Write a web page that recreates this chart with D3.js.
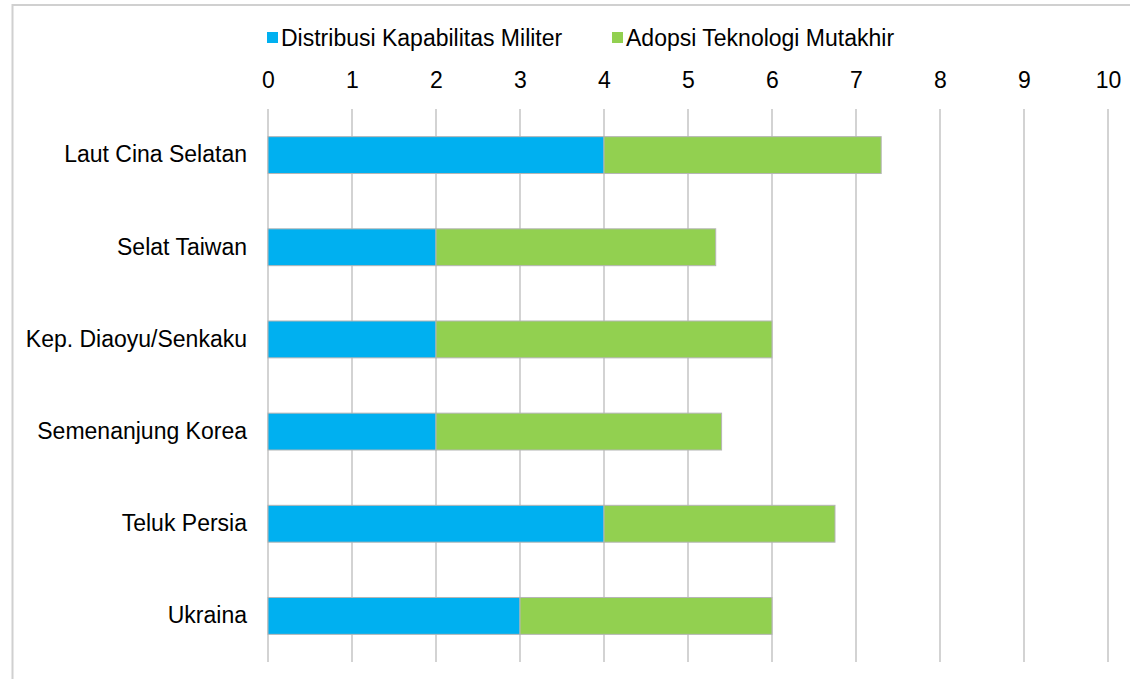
<!DOCTYPE html>
<html>
<head>
<meta charset="utf-8">
<script src="https://cdn.jsdelivr.net/npm/d3@7"></script>
<style>
  html, body { margin: 0; padding: 0; background: #fff; }
  svg { display: block; }
  text { font-family: "Liberation Sans", Arial, sans-serif; fill: #000; }
</style>
</head>
<body>
<svg id="chart" width="1130" height="679"></svg>
<script>
const categories = ["Laut Cina Selatan", "Selat Taiwan", "Kep. Diaoyu/Senkaku", "Semenanjung Korea", "Teluk Persia", "Ukraina"];
const seriesNames = ["Distribusi Kapabilitas Militer", "Adopsi Teknologi Mutakhir"];
const militer = [4, 2, 2, 2, 4, 3];
const teknologi = [3.3, 3.33, 4, 3.4, 2.75, 3];
const tickValues = [0, 1, 2, 3, 4, 5, 6, 7, 8, 9, 10];
const colors = ["#00B0F0", "#92D050"];

const svg = d3.select("#chart");
const FS = 23;

// outer border
svg.append("rect")
  .attr("x", 12.5).attr("y", 5)
  .attr("width", 1300).attr("height", 900)
  .attr("fill", "none").attr("stroke", "#d0d0d0").attr("stroke-width", 2);

const x = d3.scaleLinear().domain([0, 10]).range([268, 1108]);
const y = d3.scaleBand().domain(categories).range([109, 662]).paddingInner(0.6).paddingOuter(0.3);

// gridlines
svg.append("g").selectAll("line").data(tickValues).join("line")
  .attr("x1", d => x(d)).attr("x2", d => x(d))
  .attr("y1", 109).attr("y2", 662)
  .attr("stroke", "#c4c4c4").attr("stroke-width", 1.5);

// top axis labels
const xAxis = svg.append("g").attr("transform", "translate(0,88)")
  .call(d3.axisTop(x).tickValues(tickValues).tickSize(0).tickPadding(0).tickFormat(d3.format("d")));
xAxis.select(".domain").remove();
xAxis.selectAll("text").attr("font-size", FS).attr("font-family", "'Liberation Sans', Arial, sans-serif").attr("fill", "#000");

// category labels
const yAxis = svg.append("g").attr("transform", "translate(268,0)")
  .call(d3.axisLeft(y).tickSize(0).tickPadding(21));
yAxis.select(".domain").remove();
yAxis.selectAll("text").attr("font-size", FS).attr("font-family", "'Liberation Sans', Arial, sans-serif").attr("fill", "#000");

// stacked bars
const rows = categories.map((c, i) => ({ cat: c, militer: militer[i], teknologi: teknologi[i] }));
const stack = d3.stack().keys(["militer", "teknologi"])(rows);

svg.append("g").selectAll("g").data(stack).join("g")
  .attr("fill", (d, i) => colors[i])
  .selectAll("rect").data(d => d).join("rect")
  .attr("x", d => x(d[0]))
  .attr("y", d => y(d.data.cat))
  .attr("width", d => x(d[1]) - x(d[0]))
  .attr("height", y.bandwidth())
  .attr("stroke", "#b5b5b5").attr("stroke-width", 1);

// legend
const legendItems = [
  { name: seriesNames[0], color: colors[0], x: 267 },
  { name: seriesNames[1], color: colors[1], x: 612 }
];
const lg = svg.append("g").selectAll("g").data(legendItems).join("g")
  .attr("transform", d => `translate(${d.x},0)`);
lg.append("rect").attr("x", 0).attr("y", 32).attr("width", 11).attr("height", 11)
  .attr("fill", d => d.color);
lg.append("text").attr("x", 14).attr("y", 37.5).attr("dy", "0.35em")
  .attr("font-size", FS).text(d => d.name);
</script>
</body>
</html>
